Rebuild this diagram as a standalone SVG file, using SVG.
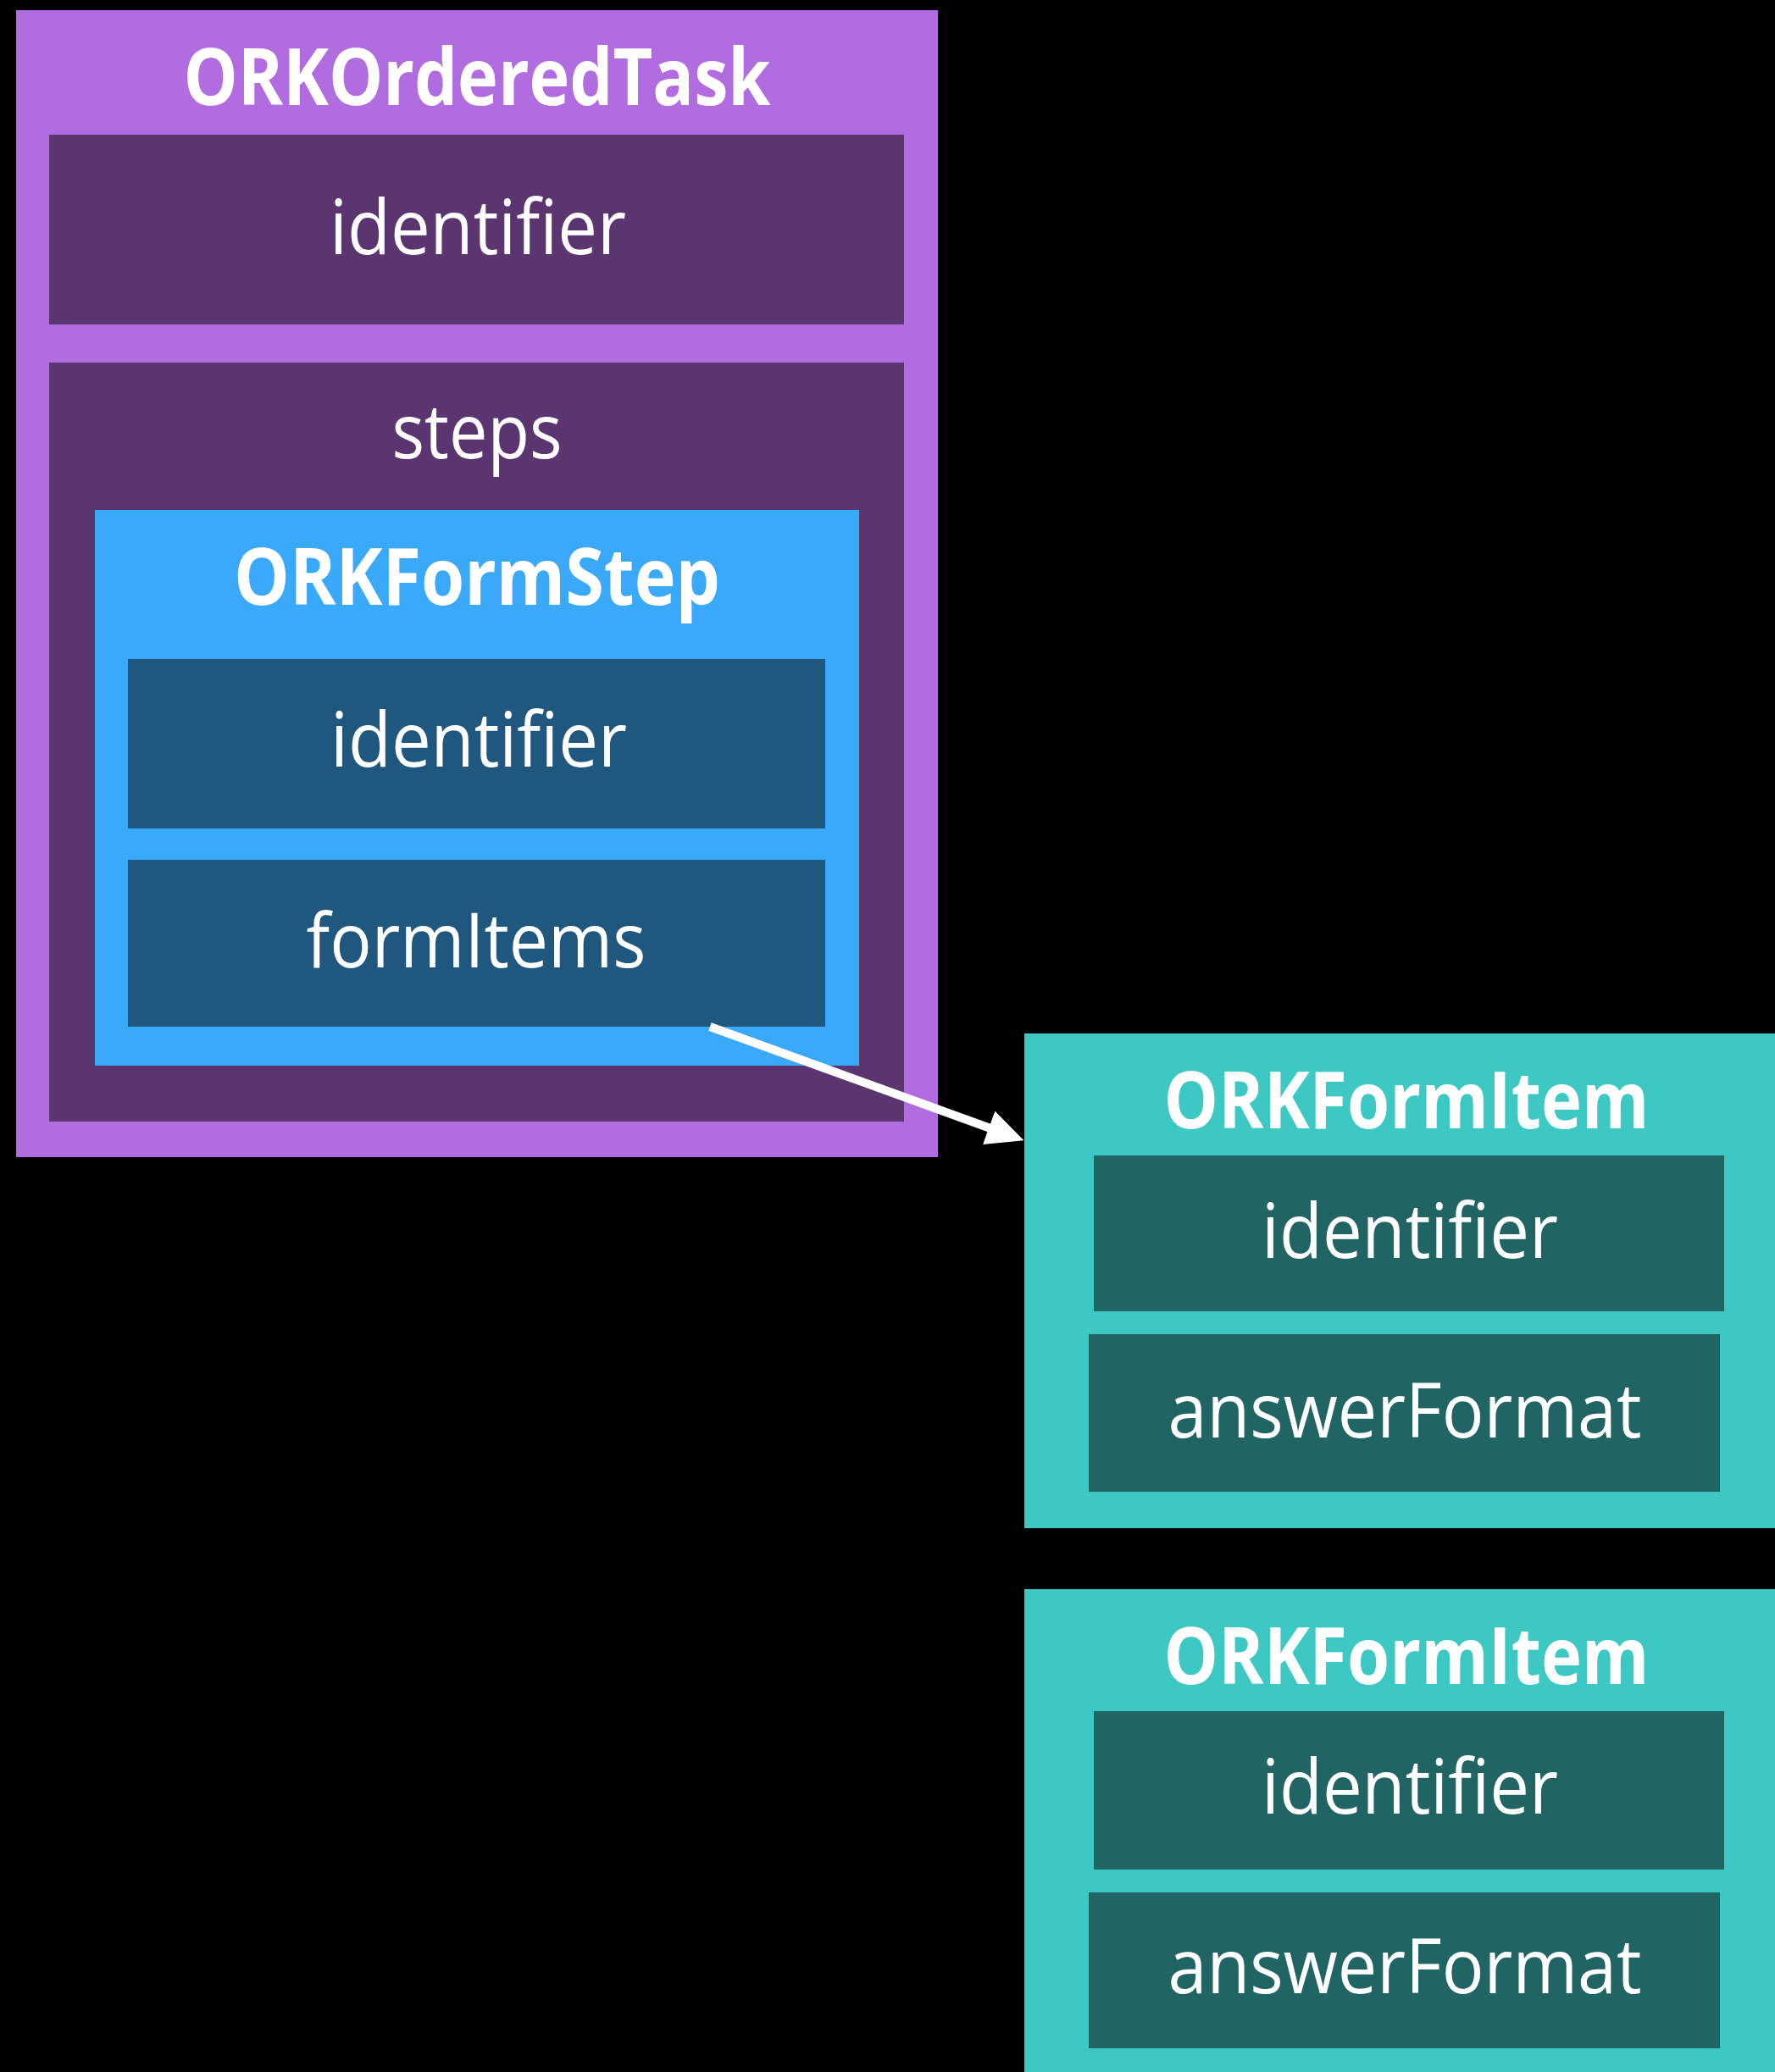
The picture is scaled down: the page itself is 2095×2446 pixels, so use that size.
<svg xmlns="http://www.w3.org/2000/svg" width="2095" height="2446" viewBox="0 0 2095 2446">
<style>
.t{fill:#ffffff;font-family:"Open Sans","Noto Sans","DejaVu Sans",sans-serif;text-anchor:middle}
.r{font-size:90px;font-weight:400}
.b{font-size:94px;font-weight:700}
.task{fill:#B16DE0}
.taskIn{fill:#5B3570}
.step{fill:#3BA9FA}
.stepIn{fill:#1F577F}
.item{fill:#3EC8C4}
.itemIn{fill:#206564}
.conn{stroke:#ffffff;stroke-width:10;fill:none}
</style>
<defs>
<marker id="ah" viewBox="0 0 44 42" refX="2" refY="21" markerWidth="44" markerHeight="42" markerUnits="userSpaceOnUse" orient="auto">
<path d="M0,0 L44,21 L0,42 z" fill="#ffffff"/>
</marker>
</defs>
<rect x="0" y="0" width="2095" height="2446" fill="#000000"/>
<g id="ORKOrderedTask">
<rect class="task" x="19" y="12" width="1088" height="1354"/>
<text class="t b" x="563" y="124" textLength="693" lengthAdjust="spacingAndGlyphs">ORKOrderedTask</text>
<g id="task-identifier">
<rect class="taskIn" x="58" y="159" width="1009" height="224"/>
<text class="t r" x="564" y="300" textLength="350" lengthAdjust="spacingAndGlyphs">identifier</text>
</g>
<g id="task-steps">
<rect class="taskIn" x="58" y="428" width="1009" height="896"/>
<text class="t r" x="563" y="541" textLength="201" lengthAdjust="spacingAndGlyphs">steps</text>
</g>
</g>
<g id="ORKFormStep">
<rect class="step" x="112" y="602" width="902" height="656"/>
<text class="t b" x="563" y="714" textLength="574" lengthAdjust="spacingAndGlyphs">ORKFormStep</text>
<g id="step-identifier">
<rect class="stepIn" x="151" y="778" width="823" height="200"/>
<text class="t r" x="565" y="905" textLength="350" lengthAdjust="spacingAndGlyphs">identifier</text>
</g>
<g id="step-formItems">
<rect class="stepIn" x="151" y="1015" width="823" height="197"/>
<text class="t r" x="562" y="1142" textLength="401" lengthAdjust="spacingAndGlyphs">formItems</text>
</g>
</g>
<g id="ORKFormItem1">
<rect class="item" x="1209" y="1220" width="886" height="584"/>
<text class="t b" x="1660" y="1332" textLength="573" lengthAdjust="spacingAndGlyphs">ORKFormItem</text>
<g id="item1-identifier">
<rect class="itemIn" x="1291" y="1364" width="744" height="184"/>
<text class="t r" x="1664" y="1485" textLength="350" lengthAdjust="spacingAndGlyphs">identifier</text>
</g>
<g id="item1-answerFormat">
<rect class="itemIn" x="1285" y="1575" width="745" height="186"/>
<text class="t r" x="1658" y="1697" textLength="559" lengthAdjust="spacingAndGlyphs">answerFormat</text>
</g>
</g>
<g id="ORKFormItem2">
<rect class="item" x="1209" y="1876" width="886" height="570"/>
<text class="t b" x="1660" y="1988" textLength="573" lengthAdjust="spacingAndGlyphs">ORKFormItem</text>
<g id="item2-identifier">
<rect class="itemIn" x="1291" y="2020" width="744" height="187"/>
<text class="t r" x="1664" y="2141" textLength="350" lengthAdjust="spacingAndGlyphs">identifier</text>
</g>
<g id="item2-answerFormat">
<rect class="itemIn" x="1285" y="2234" width="745" height="184"/>
<text class="t r" x="1658" y="2353" textLength="559" lengthAdjust="spacingAndGlyphs">answerFormat</text>
</g>
</g>
<g id="connectors">
<line class="conn" x1="838" y1="1212" x2="1169" y2="1332" marker-end="url(#ah)"/>
</g>
</svg>
